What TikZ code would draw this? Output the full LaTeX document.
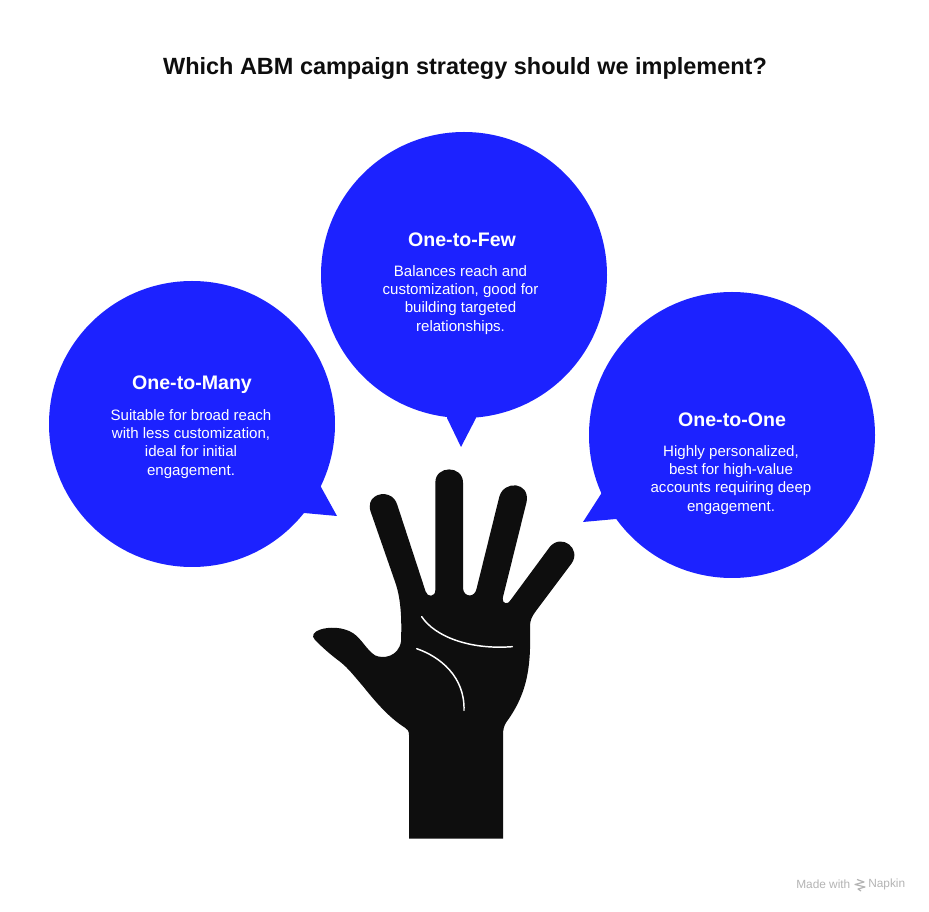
\documentclass[tikz,border=0pt]{standalone}
\usepackage{fontspec}
\setmainfont{Liberation Sans}
\definecolor{bubble}{HTML}{1C22FF}
\definecolor{handc}{HTML}{0E0E0E}
\definecolor{credit}{HTML}{B4B4B4}
\tikzset{
  bubblenode/.style={circle,fill=bubble,draw=none,minimum size=214.5pt,inner sep=0pt},
  tail/.style={fill=bubble,draw=none},
  head/.style={text=white,font=\bfseries\fontsize{14.7}{17}\selectfont,anchor=center,inner sep=0pt},
  body/.style={text=white,font=\fontsize{11.3}{13.6}\selectfont,align=center,anchor=north,inner sep=0pt},
  palm/.style={draw=white,line width=1.1pt,line cap=round}
}
\begin{document}
\begin{tikzpicture}[x=0.75pt,y=-0.75pt]
\useasboundingbox[fill=white] (0,0) rectangle (929,912);
\node[text=handc,font=\bfseries\fontsize{17.6}{22}\selectfont,inner sep=0pt] (title) at (465,68) {Which ABM campaign strategy should we implement?};

\node[bubblenode] (many) at (192,424) {};
\node[bubblenode] (few) at (464,275) {};
\node[bubblenode] (one) at (732,435) {};
\fill[tail] (318,480) -- (321,487) -- (337,516) -- (304,513) -- (295,508) -- cycle;
\fill[tail] (447,415) -- (447,418) -- (461,447) -- (476,418) -- (476,415) -- cycle;
\fill[tail] (605,485) -- (601,494) -- (583,522) -- (616,519) -- (625,510) -- cycle;

\node[head] (manyh) at (192,385) {One-to-Many};
\node[body] (manyb) at (191,409.5) {Suitable for broad reach\\with less customization,\\ideal for initial\\engagement.};
\node[head] (fewh) at (462,240) {One-to-Few};
\node[body] (fewb) at (460.5,265.5) {Balances reach and\\customization, good for\\building targeted\\relationships.};
\node[head] (oneh) at (732,420) {One-to-One};
\node[body] (oneb) at (731,445.5) {Highly personalized,\\best for high-value\\accounts requiring deep\\engagement.};

\begin{scope}[shift={(300,460)},x=0.25pt,y=-0.25pt]
\fill[handc] (327,1136) -- (327,825) .. controls (327,812) and (322,808) .. (315,803)
 .. controls (270,775) and (230,730) .. (190,680)
 .. controls (160,645) and (145,625) .. (120,605)
 .. controls (90,583) and (65,560) .. (45,540)
 .. controls (32,527) and (42,515) .. (60,509)
 .. controls (85,500) and (130,500) .. (160,520)
 .. controls (185,537) and (200,570) .. (225,586)
 .. controls (250,598) and (295,590) .. (303,545)
 .. controls (305,490) and (305,420) .. (285,365)
 -- (212,155)
 .. controls (198,112) and (240,95) .. (265,105)
 .. controls (280,110) and (288,122) .. (292,135)
 -- (377,395) .. controls (382,412) and (406,412) .. (406,390)
 -- (406,68) .. controls (406,15) and (489,15) .. (489,68)
 -- (489,385) .. controls (491,412) and (525,415) .. (530,385)
 -- (598,110) .. controls (612,60) and (690,65) .. (680,125)
 -- (608,415) .. controls (606,432) and (625,435) .. (632,420)
 -- (750,260) .. controls (785,220) and (845,265) .. (815,310)
 -- (710,450) .. controls (695,470) and (690,480) .. (690,500)
 .. controls (692,600) and (690,690) .. (620,785)
 .. controls (612,797) and (609,808) .. (609,825)
 -- (609,1136) -- cycle;
\draw[palm] (365,470) .. controls (405,530) and (510,570) .. (637,560);
\draw[palm] (350,566) .. controls (420,590) and (495,650) .. (492,751);
\end{scope}

\node[text=credit,font=\fontsize{8.9}{10}\selectfont,anchor=west,inner sep=0pt] (made) at (796,884.5) {Made with};
\node[text=credit,font=\fontsize{8.9}{10}\selectfont,anchor=west,inner sep=0pt] (napkin) at (868,884.5) {Napkin};
\draw[credit,line width=0.9pt,line join=round] (857,879.5) -- (864,882) -- (855,884.5) -- (865,887) -- (858,889) -- (861,891);
\end{tikzpicture}
\end{document}
